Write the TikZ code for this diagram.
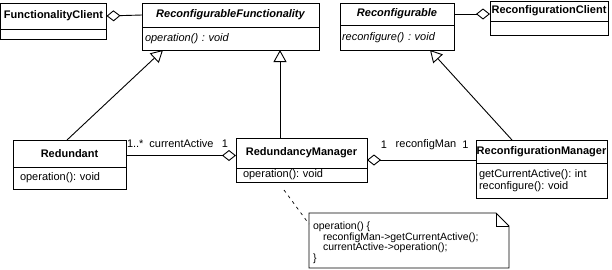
\documentclass[tikz,border=0pt]{standalone}
\usepackage{fontspec}
\setmainfont{Liberation Sans}
\usetikzlibrary{arrows.meta,calc}
\frenchspacing
\begin{document}
\begin{tikzpicture}[x=1pt,y=-1pt,
  line width=0.9pt,
  every node/.style={font=\fontsize{11}{12}\selectfont, inner sep=0pt, outer sep=0pt},
  head/.style={draw, anchor=north west, font=\fontsize{11}{12}\selectfont\bfseries},
  abstracthead/.style={head, font=\fontsize{11}{12}\selectfont\bfseries\itshape},
  body/.style={draw, anchor=north west, align=left, inner xsep=#1},
  body/.default=4pt,
  lbl/.style={font=\fontsize{11}{12}\selectfont},
  agg/.style={{Diamond[open,length=14pt,width=11pt]}-},
  aggend/.style={-{Diamond[open,length=14pt,width=11pt]}},
  gen/.style={-{Triangle[open,length=12pt,width=13pt]}},
  anchorline/.style={dash pattern=on 3pt off 4pt, line width=0.7pt}]
\useasboundingbox (0,0) rectangle (612,269);

% FunctionalityClient
\node[head, minimum width=106pt, minimum height=26pt] (fct) at (0.5,3) {FunctionalityClient};
\node[body, minimum width=106pt, minimum height=10pt] (fco) at (fct.south west) {};

% ReconfigurableFunctionality (abstract)
\node[abstracthead, minimum width=177pt, minimum height=24pt] (rft) at (142,3) {ReconfigurableFunctionality};
\node[body=3pt, text width=171pt, minimum height=23pt] (rfo) at (rft.south west) {\itshape operation() : void};

% Reconfigurable (abstract)
\node[abstracthead, minimum width=114pt, minimum height=22pt] (rt) at (340,3) {Reconfigurable};
\node[body=2pt, text width=110pt, minimum height=25pt] (ro) at (rt.south west) {\itshape reconfigure() : void};

% ReconfigurationClient
\node[head, minimum width=118pt, minimum height=20pt] (rct) at (490,1) {ReconfigurationClient};
\node[body, minimum width=118pt, minimum height=14pt] (rco) at (rct.south west) {};

% Redundant
\node[head, minimum width=113pt, minimum height=27pt] (redt) at (13,140) {Redundant};
\node[body=7pt, text width=99pt, minimum height=22pt] (redo) at (redt.south west) {operation(): void};

% RedundancyManager
\node[head, minimum width=131pt, minimum height=30pt] (rmt) at (236,138) {RedundancyManager};
\node[body=7pt, text width=117pt, minimum height=14pt] (rmo) at (rmt.south west) {operation(): void};

% ReconfigurationManager
\node[head, minimum width=131pt, minimum height=23pt] (rcmt) at (476,140) {ReconfigurationManager};
\node[body=3pt, text width=125pt, minimum height=35pt] (rcmo) at (rcmt.south west)
  {getCurrentActive(): int\\reconfigure(): void};

% Attachment points of the association lines
\coordinate (redR) at ([yshift=-2pt]redt.east);
\coordinate (rmR)  at ([yshift=-7pt]rmt.east);

% Aggregations
\draw[agg] (fct.east) -- (rft.west);
\draw[aggend] (rt.east) -- (rct.west |- rt.east);
\draw[aggend] (redR) -- (rmt.west |- redR);
\draw[agg] (rmR) -- (rcmt.west |- rmR);

% Role names and multiplicities
\node[lbl, anchor=west] (m1) at (127,144) {1..*};
\node[lbl] (r1) at (181.5,144) {currentActive};
\node[lbl] (m2) at (225,144) {1};
\node[lbl] (m3) at (384,145) {1};
\node[lbl] (r2) at (426,145) {reconfigMan};
\node[lbl] (m4) at (465.5,145) {1};

% Generalizations
\coordinate (g1s) at ([xshift=-2.5pt]redt.north);
\coordinate (g1e) at ([xshift=-67.5pt]rfo.south);
\coordinate (g2s) at ([xshift=-21.5pt]rmt.north);
\coordinate (g3s) at ([xshift=-29.5pt]rcmt.north);
\coordinate (g3e) at ([xshift=33pt]ro.south);
\draw[gen] (g1s) -- (g1e);
\draw[gen] (g2s) -- (g2s |- rfo.south);
\draw[gen] (g3s) -- (g3e);

% Note with folded corner
\node[anchor=north west, minimum width=200pt, minimum height=55pt] (note) at (309,213) {};
\coordinate (fold1) at ([xshift=-13pt]note.north east);
\coordinate (fold2) at ([yshift=-13pt]note.north east);
\draw (note.north west) -- (fold1) -- (fold2) -- (note.south east) -- (note.south west) -- cycle;
\draw (fold1) |- (fold2);
\node[anchor=north west, align=left, font=\fontsize{10.5}{10.5}\selectfont] (notetext) at (313,222)
  {operation() \{\\
   \hspace*{10pt}reconfigMan->getCurrentActive();\\
   \hspace*{10pt}currentActive->operation();\\
   \}};

% Note anchor
\coordinate (na) at (284,190);
\coordinate (nb) at ([yshift=-11pt]note.north west);
\draw[anchorline] (na) -- (nb);
\end{tikzpicture}
\end{document}
